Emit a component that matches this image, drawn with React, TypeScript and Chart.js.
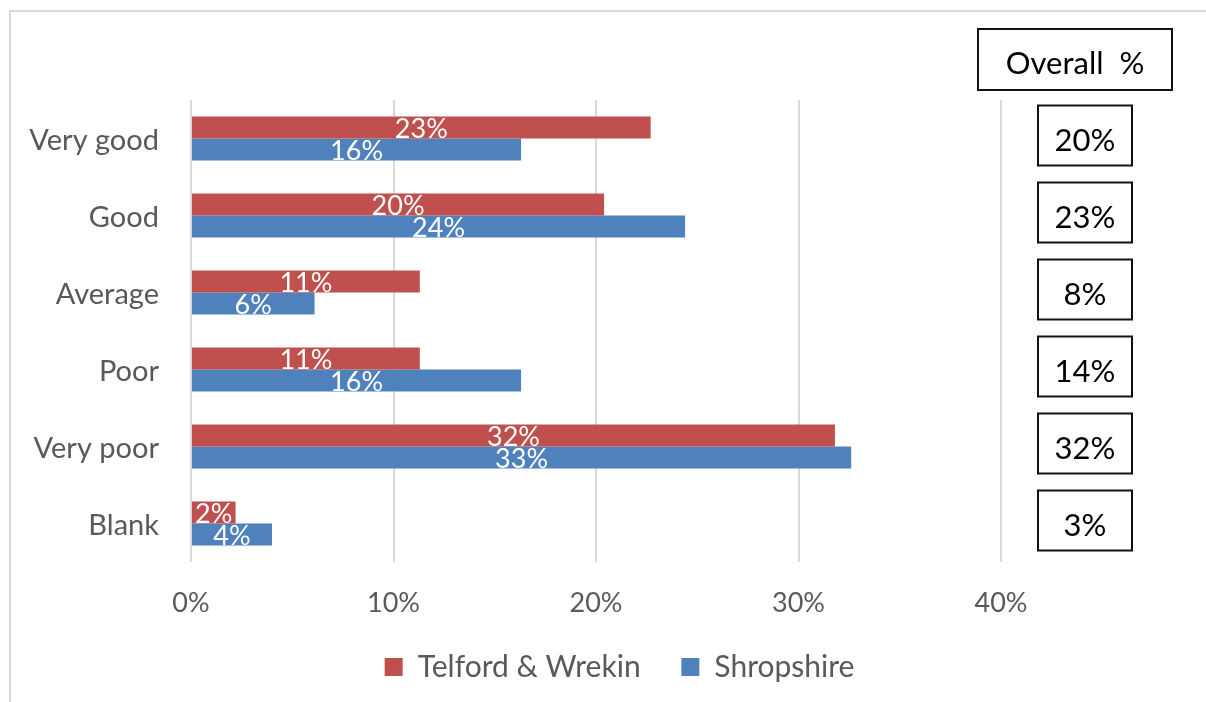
import React, { useEffect, useRef } from "react";
import { Chart, registerables } from "chart.js";

Chart.register(...registerables);

const categories = ["Very good", "Good", "Average", "Poor", "Very poor", "Blank"];
const seriesNames = ["Telford & Wrekin", "Shropshire"];
const telfordValues = [22.7, 20.4, 11.3, 11.3, 31.8, 2.2];
const shropshireValues = [16.3, 24.4, 6.1, 16.3, 32.6, 4.0];
const overallTitle = "Overall  %";
const overallValues = [20, 23, 8, 14, 32, 3];
const xTickValues = [0, 10, 20, 30, 40];

const FONT = "Lato, 'Open Sans', sans-serif";

const barLabelPlugin = {
  id: "barLabels",
  afterDatasetsDraw(chart: any) {
    const ctx = chart.ctx;
    ctx.save();
    ctx.fillStyle = "#ffffff";
    ctx.font = `27px ${FONT}`;
    ctx.textAlign = "center";
    ctx.textBaseline = "middle";
    chart.data.datasets.forEach((ds: any, di: number) => {
      const meta = chart.getDatasetMeta(di);
      meta.data.forEach((el: any, i: number) => {
        const v = ds.data[i];
        const cx = (el.x + el.base) / 2;
        ctx.fillText(`${Math.round(v)}%`, cx, el.y + 2);
      });
    });
    ctx.restore();
  },
};

const overallPlugin = {
  id: "overallBoxes",
  afterDraw(chart: any) {
    const ctx = chart.ctx;
    const yScale = chart.scales.y;
    ctx.save();
    ctx.strokeStyle = "#111111";
    ctx.lineWidth = 2;
    ctx.fillStyle = "#000000";
    ctx.textAlign = "center";
    ctx.textBaseline = "middle";
    ctx.font = `31px ${FONT}`;
    ctx.strokeRect(978, 29, 194, 61);
    ctx.fillText(overallTitle, 1075, 64);
    overallValues.forEach((v, i) => {
      const cy = yScale.getPixelForValue(i) - 3;
      const w = 94;
      const h = 60;
      const cx = 1085;
      ctx.strokeRect(cx - w / 2, cy - h / 2, w, h);
      ctx.fillText(`${v}%`, cx, cy + 5);
    });
    ctx.restore();
  },
};

const legendShiftPlugin = {
  id: "legendShift",
  afterLayout(chart: any) {
    const lg = chart.legend;
    if (lg) {
      lg.left += 119;
      lg.right += 119;
    }
  },
};

export default function App() {
  const canvasRef = useRef<HTMLCanvasElement | null>(null);

  useEffect(() => {
    if (!canvasRef.current) return;
    const chart = new Chart(canvasRef.current, {
      type: "bar",
      data: {
        labels: categories,
        datasets: [
          {
            label: seriesNames[0],
            data: telfordValues,
            backgroundColor: "#C0504D",
            categoryPercentage: 0.57,
            barPercentage: 1,
          },
          {
            label: seriesNames[1],
            data: shropshireValues,
            backgroundColor: "#4F81BD",
            categoryPercentage: 0.57,
            barPercentage: 1,
          },
        ],
      },
      options: {
        indexAxis: "y",
        responsive: false,
        devicePixelRatio: 1,
        animation: false,
        layout: { padding: { top: 100, right: 205, bottom: 10, left: 0 } },
        plugins: {
          legend: {
            position: "bottom",
            labels: {
              boxWidth: 18,
              boxHeight: 18,
              padding: 10,
              color: "#595959",
              font: { family: FONT, size: 30 },
              generateLabels(chart: any) {
                const items = Chart.defaults.plugins.legend.labels.generateLabels(chart);
                return items.map((it: any, i: number) =>
                  i < items.length - 1 ? { ...it, text: it.text + "    " } : it
                );
              },
            },
          },
          tooltip: { enabled: false },
        },
        scales: {
          x: {
            min: 0,
            max: 40,
            afterBuildTicks(scale: any) {
              scale.ticks = xTickValues.map((v) => ({ value: v }));
            },
            afterFit(scale: any) {
              scale.height = 80;
            },
            ticks: {
              padding: 25,
              color: "#595959",
              font: { family: FONT, size: 27 },
              callback: (v: any) => `${v}%`,
            },
            grid: { color: "#d9d9d9", lineWidth: 2, drawTicks: false },
            border: { display: false },
          },
          y: {
            afterFit(scale: any) {
              scale.width = 191;
            },
            ticks: {
              padding: 24,
              labelOffset: 2,
              color: "#595959",
              font: { family: FONT, size: 29 },
            },
            grid: { display: false },
            border: { display: false },
          },
        },
      },
      plugins: [barLabelPlugin, overallPlugin, legendShiftPlugin],
    });
    return () => chart.destroy();
  }, []);

  return (
    <div
      style={{
        position: "fixed",
        left: 0,
        top: 0,
        width: 1206,
        height: 702,
        background: "#ffffff",
        overflow: "hidden",
      }}
    >
      <div
        style={{
          position: "absolute",
          left: 9,
          top: 10,
          width: 1400,
          height: 900,
          borderTop: "2px solid #d9d9d9",
          borderLeft: "2px solid #d9d9d9",
        }}
      />
      <canvas
        ref={canvasRef}
        width={1206}
        height={702}
        style={{ position: "absolute", left: 0, top: 0, width: 1206, height: 702 }}
      />
    </div>
  );
}
